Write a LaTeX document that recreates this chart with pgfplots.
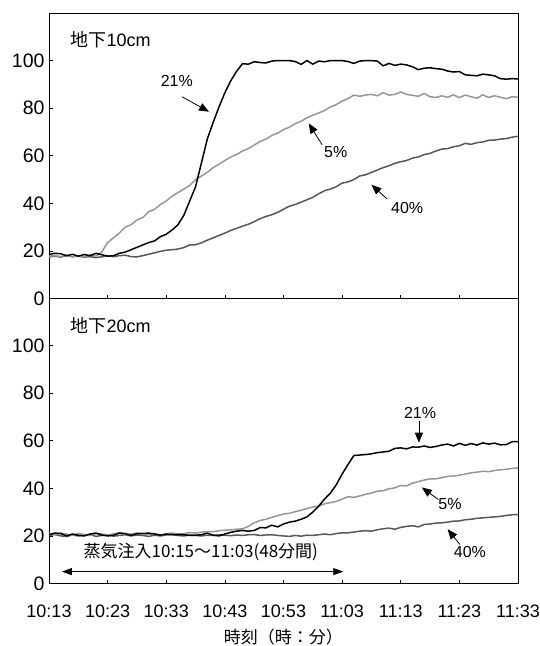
\documentclass[border=0pt]{standalone}
\usepackage{fontspec}
\setmainfont{Liberation Sans}
\newfontfamily\jp{Noto Sans CJK JP}
\usepackage{pgfplots}
\usepackage{pgfplotstable}
\pgfplotsset{compat=1.18}
\usetikzlibrary{arrows.meta}
\definecolor{lg}{RGB}{150,150,150}
\definecolor{dg}{RGB}{88,88,88}

\pgfplotstableread{
t b g d
0 18.5 17.8 17.5
1 19.0 18.0 17.8
2 18.8 17.6 17.4
3 18.0 18.2 18.0
4 18.6 17.5 17.6
5 17.8 18.0 17.8
6 18.5 17.6 17.4
7 18.0 18.3 17.6
8 19.0 17.8 17.2
9 18.4 19.5 17.5
10 17.8 23.5 18.0
11 18.0 25.5 17.6
12 19.0 27.5 18.0
13 19.5 30.0 18.2
14 20.5 31.0 17.6
15 21.5 33.0 17.5
16 22.5 34.0 18.0
17 23.5 36.5 18.6
18 24.2 37.5 19.2
19 26.0 39.5 19.8
20 27.0 41.0 20.3
21 28.8 43.0 20.5
22 31.0 44.5 20.8
23 35.0 46.0 21.4
24 41.0 47.5 22.5
25 47.0 50.0 22.6
26 57.0 51.5 23.4
27 67.0 53.0 24.5
28 74.0 55.0 25.5
29 80.5 56.5 26.5
30 86.5 58.0 27.5
31 91.5 59.5 28.6
32 95.5 60.5 29.5
33 98.7 62.0 30.4
34 98.5 63.0 31.2
35 99.5 64.5 32.3
36 99.2 66.0 33.5
37 99.0 67.0 34.5
38 99.8 68.5 35.2
39 100 69.5 36.2
40 100 71.0 37.5
41 100 72.0 38.8
42 99.6 73.5 39.5
43 98.4 74.5 40.5
44 100 76.0 41.5
45 98.5 77.0 42.5
46 99.8 78.0 44.0
47 99.5 79.0 45.3
48 100 80.5 46.0
49 100 81.5 47.0
50 100 83.0 48.5
51 99.6 84.0 49.0
52 98.8 85.5 50.0
53 99.8 85.0 51.5
54 100 85.5 52.0
55 100 85.8 53.0
56 99.8 85.2 54.0
57 97.8 86.5 55.0
58 98.8 85.5 55.8
59 98.0 85.8 56.8
60 98.5 86.8 57.5
61 98.2 85.8 58.0
62 97.4 85.4 59.0
63 96.2 85.0 59.5
64 96.8 86.2 60.5
65 97.0 84.8 61.0
66 96.6 84.5 62.0
67 96.4 85.2 62.8
68 95.6 84.6 63.0
69 95.2 85.6 63.8
70 95.4 84.4 64.2
71 94.0 85.5 65.2
72 93.8 84.8 64.8
73 93.6 84.2 65.5
74 94.3 85.6 65.8
75 94.0 84.5 66.5
76 93.6 85.2 66.6
77 92.4 84.6 67.0
78 92.2 84.0 67.2
79 92.4 84.8 67.8
80 92.3 84.6 68.2
}\topdata

\pgfplotstableread{
t b g d
0 20.5 21.0 20.2
1 21.2 20.5 20.6
2 21.0 21.2 20.0
3 20.0 20.8 19.8
4 20.8 20.2 20.4
5 20.3 21.0 20.0
6 20.0 20.6 20.2
7 20.8 20.2 20.6
8 21.2 21.0 19.8
9 20.4 20.8 20.2
10 20.0 20.4 20.4
11 20.3 20.8 19.9
12 21.2 21.4 20.2
13 21.0 20.6 20.5
14 20.2 20.8 20.0
15 21.0 21.2 20.4
16 21.0 21.0 20.2
17 21.2 20.6 19.8
18 20.8 21.0 20.3
19 20.3 20.4 20.0
20 20.8 20.8 20.4
21 20.5 21.2 20.6
22 20.6 20.8 20.2
23 20.5 21.0 20.0
24 20.2 21.4 20.4
25 20.3 21.2 20.2
26 20.5 21.6 20.0
27 21.2 21.8 20.3
28 20.3 21.8 20.2
29 20.0 22.2 20.5
30 20.8 22.4 20.3
31 21.5 22.6 20.1
32 22.0 22.8 20.4
33 22.3 23.0 20.2
34 22.0 24.0 20.5
35 22.3 25.5 20.6
36 23.5 26.5 20.2
37 23.4 27.0 20.4
38 24.5 27.8 20.5
39 23.8 28.5 20.2
40 25.0 29.2 20.0
41 25.8 29.5 19.8
42 26.2 30.2 20.2
43 27.0 30.8 19.9
44 28.0 31.5 20.3
45 30.0 32.2 20.2
46 32.5 32.5 20.5
47 35.5 33.5 20.8
48 38.0 34.0 20.5
49 41.5 34.5 21.0
50 46.0 35.5 21.3
51 50.0 36.5 21.3
52 53.8 36.2 21.6
53 54.0 36.8 22.0
54 54.2 37.5 22.2
55 54.5 38.0 22.0
56 55.0 38.8 22.6
57 55.3 39.0 23.0
58 55.6 39.8 23.3
59 56.8 40.2 22.8
60 57.0 41.2 23.6
61 56.6 41.0 24.0
62 57.4 42.2 24.3
63 57.3 42.8 23.8
64 57.8 43.5 24.8
65 57.2 44.0 25.0
66 57.6 44.0 25.4
67 58.2 44.5 25.5
68 58.6 45.0 25.8
69 57.8 45.2 26.2
70 58.9 45.5 26.3
71 58.1 46.0 26.8
72 58.8 46.5 27.0
73 58.2 46.8 27.4
74 59.1 47.2 27.6
75 58.6 47.0 27.8
76 59.0 47.5 28.0
77 58.3 47.8 28.2
78 58.4 48.0 28.6
79 59.6 48.4 28.9
80 59.6 48.6 29.0
}\botdata

\pgfplotsset{
  panel/.style={
    scale only axis, width=469pt, height=285.5pt,
    xmin=0, xmax=80, ymin=0, ymax=120,
    xtick={0,10,...,80}, ytick={0,20,...,100},
    xtick pos=lower, ytick pos=left,
    tick align=inside, major tick length=4pt,
    tick style={black, line width=0.6pt},
    axis line style={black, line width=0.9pt},
    /pgf/number format/assume math mode=true,
    yticklabel style={font=\fontsize{19.5}{19.5}\selectfont, xshift=-1pt},
    clip=false,
  },
}
\tikzset{
  ann/.style={font=\fontsize{16}{16}\selectfont},
  arr/.style={line width=0.8pt, -{Triangle[length=10pt,width=8pt]}},
}

\begin{document}
\begin{tikzpicture}
\path[use as bounding box] (0pt,0pt) rectangle (539pt,-646pt);

\begin{axis}[panel, at={(49pt,-13pt)}, anchor=north west, xticklabels={}]
\addplot[dg, line width=1.5pt] table[x=t,y=d] {\topdata};
\addplot[lg, line width=1.5pt] table[x=t,y=g] {\topdata};
\addplot[black, line width=1.5pt] table[x=t,y=b] {\topdata};
\node[anchor=west, font=\fontsize{18}{18}\selectfont] at (axis cs:3.1,109) {{\jp 地下}10cm};
\node[ann] at (axis cs:21.8,91.6) {21\%};
\draw[arr] (axis cs:22.7,84.8) -- (axis cs:27.3,78.5);
\node[ann] at (axis cs:48.9,61.4) {5\%};
\draw[arr] (axis cs:46.6,64.6) -- (axis cs:44.3,73.6);
\node[ann] at (axis cs:61.1,38) {40\%};
\draw[arr] (axis cs:57.7,41.8) -- (axis cs:55.0,47.8);
\end{axis}

\begin{axis}[panel, at={(49pt,-298pt)}, anchor=north west,
  xticklabels={10:13,10:23,10:33,10:43,10:53,11:03,11:13,11:23,11:33},
  xticklabel style={font=\fontsize{18}{18}\selectfont, yshift=-18pt},
  xlabel={\jp 時刻（時：分）}, xlabel style={font=\fontsize{17}{17}\selectfont, yshift=-4pt}]
\addplot[dg, line width=1.5pt] table[x=t,y=d] {\botdata};
\addplot[lg, line width=1.5pt] table[x=t,y=g] {\botdata};
\addplot[black, line width=1.5pt] table[x=t,y=b] {\botdata};
\node[anchor=west, font=\fontsize{18}{18}\selectfont] at (axis cs:3.1,108.4) {{\jp 地下}20cm};
\node[ann] at (axis cs:63.3,71.8) {21\%};
\draw[arr] (axis cs:63.1,68.3) -- (axis cs:63.1,59.2);
\node[ann] at (axis cs:68.4,33.6) {5\%};
\draw[arr] (axis cs:66.4,35.3) -- (axis cs:63.6,40.4);
\node[ann] at (axis cs:71.8,13.4) {40\%};
\draw[arr] (axis cs:70.1,16.4) -- (axis cs:68.0,22.8);
\node[font=\jp\fontsize{17}{17}\selectfont] at (axis cs:25.9,13.2) {蒸気注入10:15～11:03(48分間)};
\draw[line width=0.8pt, {Triangle[length=10pt,width=7pt]}-{Triangle[length=10pt,width=7pt]}] (axis cs:2.2,5) -- (axis cs:50.2,5);
\end{axis}
\end{tikzpicture}
\end{document}
